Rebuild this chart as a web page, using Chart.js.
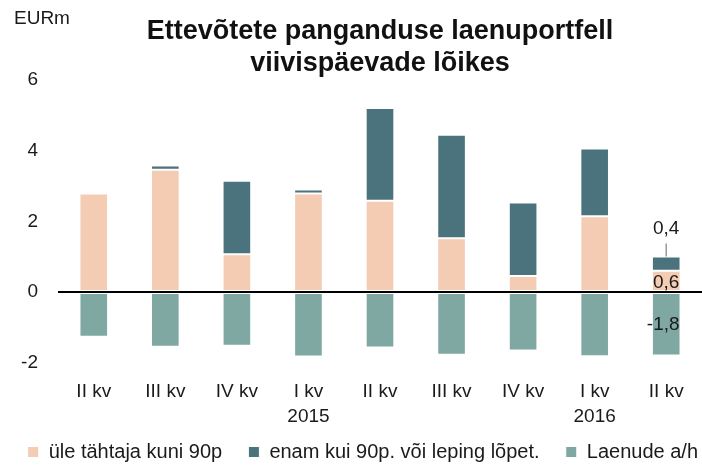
<!DOCTYPE html>
<html>
<head>
<meta charset="utf-8">
<script src="https://cdn.jsdelivr.net/npm/chart.js@4"></script>
<style>
  html, body { margin: 0; padding: 0; background: #fff; }
  #wrap { width: 702px; height: 466px; position: relative; }
</style>
</head>
<body>
<div id="wrap"><canvas id="chart"></canvas></div>
<script>
const quarters = [['II kv'], ['III kv'], ['IV kv'], ['I kv', '2015'], ['II kv'], ['III kv'], ['IV kv'], ['I kv', '2016'], ['II kv']];
const upTo90 = [2.79, 3.46, 1.07, 2.79, 2.58, 1.52, 0.45, 2.14, 0.6];
const over90 = [0.02, 0.12, 2.08, 0.11, 2.63, 2.93, 2.08, 1.92, 0.4];
const writeDowns = [-1.27, -1.55, -1.52, -1.83, -1.57, -1.78, -1.66, -1.82, -1.8];
const seriesNames = ['üle tähtaja kuni 90p', 'enam kui 90p. või leping lõpet.', 'Laenude a/h'];
const yTicks = [-2, 0, 2, 4, 6];

const FONT = '"Liberation Sans", Arial, sans-serif';
const TXT = '#1a1a1a';
const fmt = (v) => String(v).replace('.', ',');

// EURm unit + value labels on the last bar
const extras = {
  id: 'extras',
  afterDatasetsDraw(chart) {
    const ctx = chart.ctx;
    const x = chart.scales.x, y = chart.scales.y;
    const last = quarters.length - 1;
    const cx = x.getPixelForValue(last);
    ctx.save();
    ctx.fillStyle = TXT;
    ctx.font = '19px ' + FONT;
    ctx.textAlign = 'left';
    ctx.textBaseline = 'middle';
    ctx.fillText('EURm', 14, 19);

    ctx.textAlign = 'center';
    const top = y.getPixelForValue(upTo90[last] + over90[last]);
    ctx.strokeStyle = '#999';
    ctx.lineWidth = 1.5;
    ctx.beginPath();
    ctx.moveTo(cx, top);
    ctx.lineTo(cx, top - 13);
    ctx.stroke();
    ctx.fillText(fmt(over90[last]), cx, top - 28);
    ctx.fillText(fmt(upTo90[last]), cx, y.getPixelForValue(upTo90[last]) + 12);
    ctx.fillText(fmt(writeDowns[last]), cx - 3, y.getPixelForValue(writeDowns[last]) - 31);
    ctx.restore();
  }
};

// stretch the gaps between legend entries without adding height
const legendGap = '    ';

new Chart(document.getElementById('chart'), {
  type: 'bar',
  data: {
    labels: quarters,
    datasets: [
      { label: seriesNames[0], data: upTo90, backgroundColor: '#F4CBB3', borderColor: '#fff', borderWidth: 1, borderSkipped: false },
      { label: seriesNames[1], data: over90, backgroundColor: '#4A737E', borderColor: '#fff', borderWidth: 1, borderSkipped: false },
      { label: seriesNames[2], data: writeDowns, backgroundColor: '#7FA8A3', borderColor: '#fff', borderWidth: 1, borderSkipped: false }
    ]
  },
  options: {
    responsive: true,
    maintainAspectRatio: false,
    animation: false,
    datasets: { bar: { categoryPercentage: 1, barPercentage: 0.4 } },
    layout: { padding: { top: 0, right: 0, left: 0, bottom: -6 } },
    scales: {
      x: {
        stacked: true,
        grid: { display: false, drawTicks: false },
        border: { display: false },
        ticks: { color: TXT, font: { family: FONT, size: 19, lineHeight: 1.3 }, padding: 17, maxRotation: 0 },
        afterFit: (s) => { s.height -= 8; }
      },
      y: {
        stacked: true,
        min: -2,
        max: 6,
        afterBuildTicks: (s) => { s.ticks = yTicks.map(v => ({ value: v })); },
        afterFit: (s) => { s.width = 58; },
        border: { display: false },
        grid: {
          drawTicks: false,
          color: (c) => c.tick && c.tick.value === 0 ? '#000' : 'rgba(0,0,0,0)',
          lineWidth: (c) => c.tick && c.tick.value === 0 ? 2 : 0
        },
        ticks: { color: TXT, font: { family: FONT, size: 19 }, padding: 20 }
      }
    },
    plugins: {
      title: {
        display: true,
        fullSize: false,
        text: ['Ettevõtete panganduse laenuportfell', 'viivispäevade lõikes'],
        color: '#111',
        font: { family: FONT, size: 27, weight: 'bold', lineHeight: 1.185 },
        padding: { top: 16, bottom: 0 }
      },
      legend: {
        position: 'bottom',
        align: 'end',
        labels: {
          color: TXT,
          font: { family: FONT, size: 20 },
          boxWidth: 11,
          boxHeight: 11,
          padding: 4,
          generateLabels: (chart) => {
            const items = Chart.defaults.plugins.legend.labels.generateLabels(chart);
            items.forEach((it, i) => { if (i < items.length - 1) it.text += legendGap; });
            return items;
          }
        }
      },
      tooltip: { enabled: false }
    }
  },
  plugins: [extras]
});
</script>
</body>
</html>
